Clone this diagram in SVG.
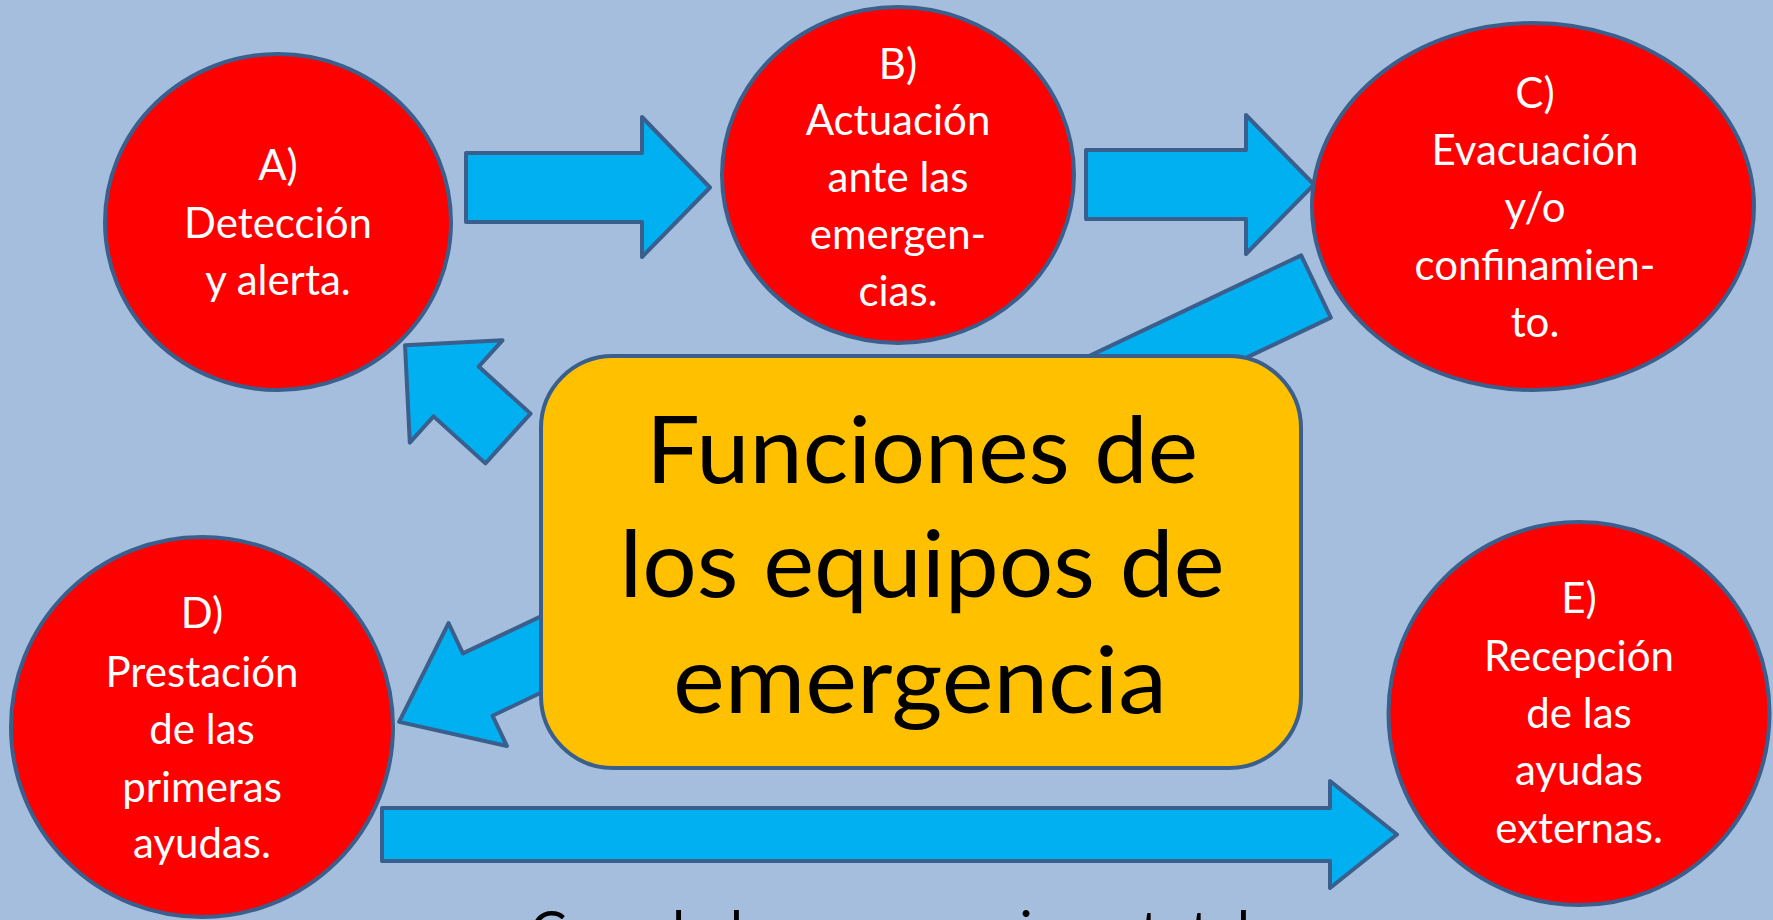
<svg xmlns="http://www.w3.org/2000/svg" width="1773" height="920" viewBox="0 0 1773 920">
  <style>
    .arrow { fill: #00B0F0; stroke: #3A5F8C; stroke-width: 4; stroke-linejoin: round; }
    .circle { fill: #FF0000; stroke: #3A5F8C; stroke-width: 4; }
    .box { fill: #FFC000; stroke: #3A5F8C; stroke-width: 4; }
    .lbl { font-family: Lato, "Open Sans", "Liberation Sans", sans-serif; font-size: 42px; fill: #FFFFFF; text-anchor: middle; }
    .title { font-family: Lato, "Open Sans", "Liberation Sans", sans-serif; font-size: 94px; fill: #000000; text-anchor: middle; }
    .foot { font-family: Lato, "Open Sans", "Liberation Sans", sans-serif; font-size: 54px; fill: #000000; }
  </style>
  <rect x="0" y="0" width="1773" height="920" fill="#A6BEDD"/>

  <g id="connectors">
    <!-- A -> B -->
    <polygon class="arrow" points="466,153 642,153 642,117 710,187.5 642,257 642,222 466,222"/>
    <!-- B -> C -->
    <polygon class="arrow" points="1086,150 1246,150 1246,115 1314,184.5 1246,254 1246,219 1086,219"/>
    <!-- C -> D (passes behind central box) -->
    <polygon class="arrow" transform="translate(1316,286.5) rotate(154.6)" points="0,-34.5 928,-34.5 928,-68 1015,0 928,68 928,34.5 0,34.5"/>
    <!-- box -> A -->
    <polygon class="arrow" transform="translate(508,438.5) rotate(-137.8)" points="0,-33.6 70,-33.6 70,-69 139,0 70,69 70,33.6 0,33.6"/>
    <!-- D -> E -->
    <polygon class="arrow" points="382,808 1330,808 1330,781 1397,834.5 1330,888 1330,861 382,861"/>
  </g>

  <g id="center">
    <rect class="box" x="541" y="356" width="760" height="412" rx="72" ry="72"/>
    <text class="title" x="922" y="483" textLength="552" lengthAdjust="spacingAndGlyphs">Funciones de</text>
    <text class="title" x="922" y="597" textLength="605" lengthAdjust="spacingAndGlyphs">los equipos de</text>
    <text class="title" x="920" y="713" textLength="494" lengthAdjust="spacingAndGlyphs">emergencia</text>
  </g>

  <g id="nodeA">
    <ellipse class="circle" cx="278" cy="222" rx="173" ry="168"/>
    <text class="lbl" x="278" y="180">A)</text>
    <text class="lbl" x="278" y="238">Detección</text>
    <text class="lbl" x="278" y="295">y alerta.</text>
  </g>

  <g id="nodeB">
    <ellipse class="circle" cx="898" cy="175" rx="176" ry="168"/>
    <text class="lbl" x="898" y="79">B)</text>
    <text class="lbl" x="898" y="135">Actuación</text>
    <text class="lbl" x="898" y="192">ante las</text>
    <text class="lbl" x="898" y="249">emergen-</text>
    <text class="lbl" x="898" y="306">cias.</text>
  </g>

  <g id="nodeC">
    <ellipse class="circle" cx="1533" cy="206.5" rx="221" ry="183.5"/>
    <text class="lbl" x="1535" y="108">C)</text>
    <text class="lbl" x="1535" y="165">Evacuación</text>
    <text class="lbl" x="1535" y="222">y/o</text>
    <text class="lbl" x="1535" y="280">confinamien-</text>
    <text class="lbl" x="1535" y="337">to.</text>
  </g>

  <g id="nodeD">
    <ellipse class="circle" cx="202" cy="727" rx="191" ry="190"/>
    <text class="lbl" x="202" y="628">D)</text>
    <text class="lbl" x="202" y="687">Prestación</text>
    <text class="lbl" x="202" y="744">de las</text>
    <text class="lbl" x="202" y="802">primeras</text>
    <text class="lbl" x="202" y="858">ayudas.</text>
  </g>

  <g id="nodeE">
    <ellipse class="circle" cx="1579" cy="713.5" rx="190.5" ry="191.5"/>
    <text class="lbl" x="1579" y="613">E)</text>
    <text class="lbl" x="1579" y="671">Recepción</text>
    <text class="lbl" x="1579" y="728">de las</text>
    <text class="lbl" x="1579" y="785">ayudas</text>
    <text class="lbl" x="1579" y="843">externas.</text>
  </g>

  <text class="foot" x="530" y="950" textLength="720" lengthAdjust="spacingAndGlyphs">Cuando la emergencia es total</text>
</svg>
